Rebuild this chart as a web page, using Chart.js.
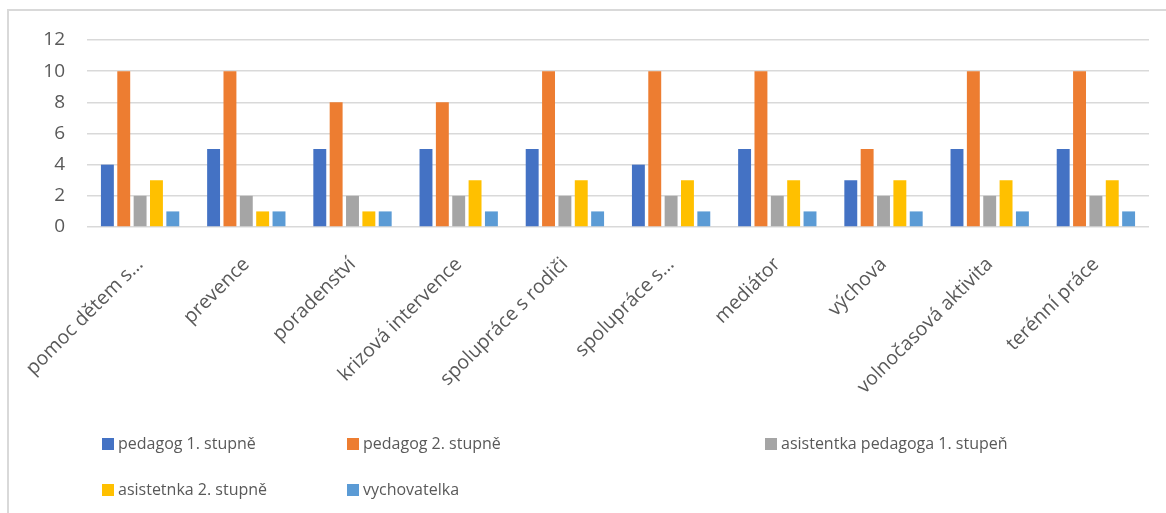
<!DOCTYPE html>
<html>
<head>
<meta charset="utf-8">
<script src="https://cdn.jsdelivr.net/npm/chart.js@4"></script>
<style>
  html, body { margin: 0; padding: 0; background: #fff; }
  #wrap { position: relative; width: 1166px; height: 513px; overflow: hidden; }
  #frame { position: absolute; left: 7px; top: 9px; right: -10px; bottom: -10px;
           border-top: 2px solid #d9d9d9; border-left: 2px solid #d9d9d9; }
  canvas { position: absolute; left: 0; top: 0; }
  .lg { position: absolute; font-family: "Open Sans", sans-serif;
        font-size: 16px; color: #595959; white-space: nowrap; line-height: 22px; }
  .lg i { display: inline-block; width: 12px; height: 12px; margin-right: 4px; vertical-align: -1px; }
</style>
</head>
<body>
<div id="wrap">
  <div id="frame"></div>
  <canvas id="c" width="1166" height="513"></canvas>
  <div id="legend"></div>
</div>
<script>
const categories = ["pomoc dětem s…", "prevence", "poradenství", "krizová intervence", "spolupráce s rodiči",
  "spolupráce s…", "mediátor", "výchova", "volnočasová aktivita", "terénní práce"];
const seriesNames = ["pedagog 1. stupně", "pedagog 2. stupně", "asistentka pedagoga 1. stupeň",
  "asistetnka 2. stupně", "vychovatelka"];
const pedagog1 = [4, 5, 5, 5, 5, 4, 5, 3, 5, 5];
const pedagog2 = [10, 10, 8, 8, 10, 10, 10, 5, 10, 10];
const asistentka1 = [2, 2, 2, 2, 2, 2, 2, 2, 2, 2];
const asistentka2 = [3, 1, 1, 3, 3, 3, 3, 3, 3, 3];
const vychovatelka = [1, 1, 1, 1, 1, 1, 1, 1, 1, 1];
const colors = ["#4472C4", "#ED7D31", "#A5A5A5", "#FFC000", "#5B9BD5"];

const font = "'Open Sans', sans-serif";
const values = [pedagog1, pedagog2, asistentka1, asistentka2, vychovatelka];

const chart = new Chart(document.getElementById("c"), {
  type: "bar",
  data: {
    labels: categories,
    datasets: values.map((v, i) => ({
      label: seriesNames[i],
      data: v,
      backgroundColor: colors[i],
      categoryPercentage: 0.77,
      barPercentage: 0.79,
    })),
  },
  options: {
    responsive: false, animation: false,
    layout: { padding: { top: 40, right: 17, left: 0, bottom: 0 } },
    plugins: { legend: { display: false }, tooltip: { enabled: false } },
    scales: {
      x: {
        afterFit: s => { s.height = 286; },
        grid: { display: false },
        border: { display: false },
        ticks: { color: "#595959", font: { family: font, size: 19.5 }, minRotation: 45, maxRotation: 45, padding: 18, autoSkip: false },
      },
      y: {
        min: 0, max: 12,
        afterFit: s => { s.width = 87; },
        grid: { color: "#d9d9d9", lineWidth: 1.5, drawTicks: false },
        border: { display: false },
        ticks: { stepSize: 2, color: "#595959", font: { family: font, size: 19 }, padding: 22 },
      },
    },
  },
});

/* legend built from the chart's datasets */
const pos = [[102, 432], [347, 432], [765, 432], [102, 478], [347, 478]];
document.getElementById("legend").innerHTML = chart.data.datasets.map((d, i) =>
  `<div class="lg" style="left:${pos[i][0]}px;top:${pos[i][1]}px"><i style="background:${d.backgroundColor}"></i>${d.label}</div>`
).join("");
</script>
</body>
</html>
